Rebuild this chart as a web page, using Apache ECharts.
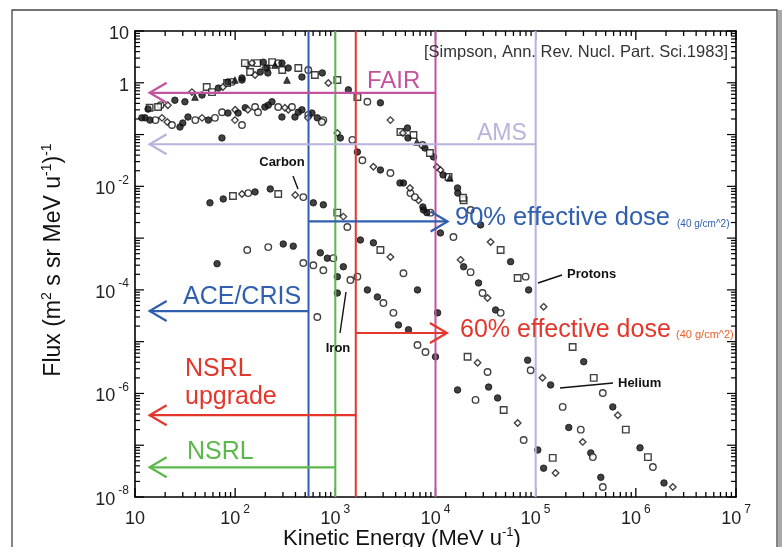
<!DOCTYPE html>
<html><head><meta charset="utf-8">
<script src="https://cdn.jsdelivr.net/npm/echarts@6/dist/echarts.min.js"></script>
<style>html,body{margin:0;padding:0;background:#fff}#c{width:782px;height:547px}</style>
</head><body><div id="c"></div>
<script>
// ---------- data (kinetic energy in MeV/u, flux in (m^2 s sr MeV/u)^-1) ----------
const protonE = [14,18,25,37,52,68,83,93,117,132,166,191,234,269,178,200,295,339,427,537,741,851,1047,1349,1660,2089,2818,3548,4467,5248,6026,7413,9550,1.12e4,1.35e4,1.66e4,1.91e4,2.24e4,2.82e4,3.55e4,4.47e4,5.62e4,6.61e4,7.94e4,8.51e4,1.2e5,2.34e5,3.02e5,3.8e5,4.68e5,5.89e5,6.61e5,7.94e5,1.1e6,1.32e6,1.48e6,1.91e6,2.34e6];
const protonFlux = [0.33,0.37,0.46,0.66,0.83,0.79,0.99,1.04,1.13,2.2,2.4,2.5,2.5,2.4,1.61,1.93,1.77,1.93,1.93,1.77,1.55,0.99,1.13,0.73,0.53,0.43,0.41,0.19,0.112,0.134,0.098,0.063,0.037,0.0207,0.0151,0.0093,0.0054,0.0035,0.0018,8.4e-4,5.9e-4,3.5e-4,1.7e-4,1.8e-4,1.0e-4,4.7e-5,7.9e-6,4.1e-6,2.0e-6,1.02e-6,5.5e-7,3.8e-7,2.0e-7,8.9e-8,5.9e-8,3.8e-8,1.87e-8,1.56e-8];
// other proton data sets (denser low/mid-energy cloud)
const protonE2 = [13.5,17,21.3,31.5,39.7,46.7,58.7,75.5,84.7,99.5,117,141,158,208,250,293,125,147,212,329,464,625,4730,5310,6520,7830,8790,1.03e4,1.19e4,1.39e4,1.67e4,1.88e4];
const protonFlux2 = [0.31,0.34,0.37,0.43,0.53,0.58,0.66,0.83,1.04,1.13,1.24,1.61,1.41,1.93,2.2,2.4,2.4,2.4,1.55,1.13,1.29,1.41,0.107,0.086,0.072,0.055,0.044,0.0237,0.0166,0.0145,0.0074,0.0060];

const heliumE = [12.6,16,21,30,40,54,74,100,126,158,214,269,339,427,537,661,759,1047,1122,1479,1660,1862,2399,2818,3548,4786,5623,6761,7586,8913,1.12e4,1.51e4,1.78e4,1.91e4,2.24e4,2.69e4,2.95e4,3.31e4,3.98e4,4.47e4,8.32e4,8.91e4,1.17e5,1.41e5,1.86e5,2.14e5,2.82e5,2.95e5,3.55e5,3.72e5,4.47e5,4.68e5];
const heliumFlux = [0.21,0.19,0.175,0.167,0.19,0.19,0.27,0.30,0.33,0.34,0.37,0.34,0.30,0.27,0.24,0.21,0.19,0.107,0.086,0.079,0.046,0.032,0.024,0.0207,0.0181,0.0116,0.0074,0.0054,0.0035,0.0031,0.00126,0.00105,3.8e-4,2.8e-4,2.2e-4,1.36e-4,8.7e-5,7.0e-5,4.1e-5,3.6e-5,4.4e-6,2.8e-6,2.0e-6,1.46e-6,5.5e-7,2.2e-7,2.0e-7,1.16e-7,7.1e-8,5.9e-8,2.4e-8,1.56e-8];
const heliumE2 = [11.7,14.1,18.6,23.4,28.1,33.8,46.7,62.8,84.7,107,134,169,198,233,314,369,464,584,99.5,117,293,395,533,735,73.8,4420,5560,6230,7480,8200];
const heliumFlux2 = [0.21,0.19,0.21,0.153,0.14,0.218,0.21,0.21,0.26,0.26,0.30,0.27,0.34,0.43,0.33,0.34,0.30,0.26,0.19,0.153,0.218,0.218,0.21,0.175,0.086,0.0116,0.0093,0.0062,0.0040,0.0031];

const carbonE = [56,76,95,117,135,158,224,269,398,479,603,759,1047,1202,1318,1778,2399,2818,3548,4786,6607,1.05e4,2.09e4,2.63e4,3.31e4,3.39e4,4.17e4,4.79e4,6.61e4,7.59e4,1.05e5,1.2e5,1.48e5,1.58e5];
const carbonFlux = [0.0048,0.0057,0.0065,0.0071,0.0074,0.0078,0.0089,0.0071,0.0068,0.0062,0.0048,0.0044,0.0031,0.0026,0.00164,9.2e-4,8.1e-4,5.9e-4,4.3e-4,2.1e-4,1.0e-4,3.6e-5,5.1e-6,3.9e-6,2.6e-6,1.33e-6,8.2e-7,4.8e-7,2.7e-7,1.26e-7,8.1e-8,3.6e-8,5.7e-8,2.9e-8];

const ironE = [66,132,214,302,380,479,603,708,832,955,759,1047,1202,1413,1660,2089,2630,3020,3800,4266,5370,6607,7943,1.0e4,1.66e4,2.51e4,661,1047];
const ironFlux = [3.2e-4,5.9e-4,6.7e-4,7.7e-4,7.0e-4,3.3e-4,3.0e-4,5.2e-4,4.1e-4,4.1e-4,2.4e-4,1.8e-4,2.8e-4,1.55e-4,1.8e-4,1.0e-4,7.3e-5,5.6e-5,3.6e-5,2.1e-5,1.7e-5,8.6e-6,6.3e-6,5.1e-6,1.17e-6,7.5e-7,3.0e-5,8.7e-5];

// facility energy limits and arrow levels
const facilityNames = ['ACE/CRIS', 'NSRL', 'NSRL upgrade', 'FAIR', 'AMS'];
const facilityEnergy = [540, 1000, 1600, 1.0e4, 1.0e5];
const facilityArrowFlux = [3.9e-5, 3.75e-8, 3.8e-7, 0.64, 0.065];
const arrowTipEnergy = 14;
// effective dose arrows (start energy, end energy, flux level)
const doseNames = ['90% effective dose', '60% effective dose'];
const doseStartE = [540, 1600];
const doseEndE = [1.32e4, 1.3e4];
const doseFlux = [2.1e-3, 1.47e-5];

const xTickLabels = ['10', '10{s|2}', '10{s|3}', '10{s|4}', '10{s|5}', '10{s|6}', '10{s|7}'];

// ---------- styling ----------
const FONT = '"Liberation Sans", Arial, sans-serif';
const facilityColors = ['#2f5fae', '#5cb84a', '#e3372c', '#c4529f', '#b9b2dc'];
const doseColors = ['#2f5fae', '#e3372c'];

function pts(E, F, pattern) {
  return E.map((e, i) => {
    const s = pattern[i % pattern.length];
    const open = s.indexOf('o') === 0;
    const sym = open ? s.slice(1) : s;
    return {
      value: [e, F[i]], symbol: sym,
      itemStyle: open ? { color: '#fff', borderColor: '#111', borderWidth: 1.4 } : { color: '#111', borderColor: '#111', borderWidth: 1 }
    };
  });
}

const tickData = [];
for (let k = 1; k <= 7; k++) {
  for (let m = 1; m <= 9; m++) {
    const v = m * Math.pow(10, k);
    if (v > 1e7 * 1.0001) break;
    tickData.push([v, 1e-8, m === 1 ? 1 : 0]);
  }
}
const yTickData = [];
for (let k = -8; k <= 1; k++) {
  for (let m = 1; m <= 9; m++) {
    const v = m * Math.pow(10, k);
    if (v > 10 * 1.0001) break;
    yTickData.push([10, v, m === 1 ? 1 : 0]);
  }
}

const chart = echarts.init(document.getElementById('c'), null, { renderer: 'canvas' });

function axisBase(extra) {
  return Object.assign({
    type: 'log', logBase: 10, interval: 1,
    axisLine: { show: true, lineStyle: { color: '#000', width: 1.6 } },
    axisTick: { show: false }, splitLine: { show: false }, minorTick: { show: false }
  }, extra);
}
const richLbl = {
  b: { fontSize: 18, fontFamily: FONT, color: '#222', lineHeight: 24, verticalAlign: 'bottom' },
  s: { fontSize: 12, fontFamily: FONT, color: '#222', verticalAlign: 'top', lineHeight: 24, padding: [0, 0, 0, 3] }
};

const facilityData = facilityEnergy.map((e, i) => [e, facilityArrowFlux[i], arrowTipEnergy, i, 1]);
const doseData = doseStartE.map((e, i) => [e, doseFlux[i], doseEndE[i], i, 0]);

function arrowRender(colors) {
  return function (params, api) {
    const e = api.value(0), f = api.value(1), tip = api.value(2), ci = api.value(3), drawV = api.value(4);
    const c = colors[ci];
    const children = [];
    if (drawV) {
      const t = api.coord([e, 10]), b = api.coord([e, 1e-8]);
      children.push({ type: 'line', shape: { x1: t[0], y1: t[1], x2: b[0], y2: b[1] }, style: { stroke: c, lineWidth: 2 } });
    }
    const a = api.coord([e, f]), p = api.coord([tip, f]);
    const dir = p[0] > a[0] ? 1 : -1;
    children.push({ type: 'line', shape: { x1: a[0], y1: a[1], x2: p[0], y2: p[1] }, style: { stroke: c, lineWidth: 2.2 } });
    children.push({ type: 'polyline', shape: { points: [[p[0] - dir * 17, p[1] - 10], [p[0], p[1]], [p[0] - dir * 17, p[1] + 10]] }, style: { stroke: c, lineWidth: 2.2, fill: null } });
    return { type: 'group', children: children };
  };
}

const SZ = 6.5;
const option = {
  animation: false,
  backgroundColor: '#fff',
  grid: { left: 135, right: 46, top: 31, bottom: 50, show: false },
  xAxis: [
    axisBase({ min: 10, max: 1e7, position: 'bottom',
      axisLabel: { margin: 7, formatter: function (v) { const k = Math.round(Math.log10(v)); return k === 1 ? '{b|10}' : xTickLabels[k - 1].replace('10{', '{b|10}{'); }, rich: richLbl } }),
    axisBase({ min: 10, max: 1e7, position: 'top', axisLabel: { show: false } })
  ],
  yAxis: [
    axisBase({ min: 1e-8, max: 10, position: 'left',
      axisLabel: { margin: 6, formatter: function (v) { const k = Math.round(Math.log10(v)); if (k === 1) return '{b|10}'; if (k === 0) return '{b|1}'; if (k % 2 !== 0) return ''; return '{b|10}{s|' + String(k) + '}'; }, rich: richLbl } }),
    axisBase({ min: 1e-8, max: 10, position: 'right', axisLabel: { show: false } })
  ],
  series: [
    { type: 'scatter', name: 'Protons', symbolSize: SZ, z: 3, data: pts(protonE, protonFlux, ['orect', 'ocircle', 'circle', 'odiamond', 'orect', 'circle']) },
    { type: 'scatter', name: 'Protons (other)', symbolSize: SZ, z: 3, data: pts(protonE2, protonFlux2, ['circle', 'orect', 'odiamond', 'circle', 'triangle']) },
    { type: 'scatter', name: 'Helium', symbolSize: SZ, z: 3, data: pts(heliumE, heliumFlux, ['circle', 'ocircle', 'odiamond', 'circle', 'ocircle']) },
    { type: 'scatter', name: 'Helium (other)', symbolSize: SZ, z: 3, data: pts(heliumE2, heliumFlux2, ['circle', 'circle', 'odiamond', 'ocircle']) },
    { type: 'scatter', name: 'Carbon', symbolSize: SZ, z: 3, data: pts(carbonE, carbonFlux, ['circle', 'circle', 'orect', 'odiamond', 'ocircle']) },
    { type: 'scatter', name: 'Iron', symbolSize: SZ, z: 3, data: pts(ironE, ironFlux, ['circle', 'ocircle', 'ocircle', 'circle']) },
    { type: 'custom', name: 'xticks', silent: true, clip: false, z: 5, data: tickData,
      renderItem: function (params, api) {
        const v = api.value(0), len = api.value(2) ? 9 : 5;
        const b = api.coord([v, 1e-8]), t = api.coord([v, 10]);
        return { type: 'group', children: [
          { type: 'line', shape: { x1: b[0], y1: b[1], x2: b[0], y2: b[1] - len }, style: { stroke: '#000', lineWidth: 1.3 } },
          { type: 'line', shape: { x1: t[0], y1: t[1], x2: t[0], y2: t[1] + len }, style: { stroke: '#000', lineWidth: 1.3 } }
        ] };
      } },
    { type: 'custom', name: 'yticks', silent: true, clip: false, z: 5, data: yTickData,
      renderItem: function (params, api) {
        const v = api.value(1), len = api.value(2) ? 9 : 5;
        const l = api.coord([10, v]), r = api.coord([1e7, v]);
        return { type: 'group', children: [
          { type: 'line', shape: { x1: l[0], y1: l[1], x2: l[0] + len, y2: l[1] }, style: { stroke: '#000', lineWidth: 1.2 } },
          { type: 'line', shape: { x1: r[0], y1: r[1], x2: r[0] - len, y2: r[1] }, style: { stroke: '#000', lineWidth: 1.2 } }
        ] };
      } },
    { type: 'custom', name: 'facilities', silent: true, clip: false, z: 6, data: facilityData, renderItem: arrowRender(facilityColors) },
    { type: 'custom', name: 'dose', silent: true, clip: false, z: 6, data: doseData, renderItem: arrowRender(doseColors) }
  ],
  graphic: [
    { type: 'rect', shape: { x: 12, y: 10, width: 765, height: 560 }, style: { fill: null, stroke: '#444', lineWidth: 1.3 }, z: 0 },
    { type: 'rect', shape: { x: 778, y: 10, width: 4, height: 560 }, style: { fill: '#aaa' }, z: 0 },
    { type: 'text', x: 424, y: 52, style: { text: '[Simpson, Ann. Rev. Nucl. Part. Sci.1983]', font: '16.5px ' + FONT, fill: '#333', align: 'left', verticalAlign: 'middle' }, z: 10 },
    // facility labels
    { type: 'text', x: 367, y: 81, style: { text: 'FAIR', font: '24px ' + FONT, fill: facilityColors[3], align: 'left', verticalAlign: 'middle' }, z: 10 },
    { type: 'text', x: 477, y: 134, style: { text: 'AMS', font: '23px ' + FONT, fill: facilityColors[4], align: 'left', verticalAlign: 'middle' }, z: 10 },
    { type: 'text', x: 183, y: 297, style: { text: 'ACE/CRIS', font: '25px ' + FONT, fill: facilityColors[0], align: 'left', verticalAlign: 'middle' }, z: 10 },
    { type: 'text', x: 185, y: 369, style: { text: 'NSRL', font: '25px ' + FONT, fill: facilityColors[2], align: 'left', verticalAlign: 'middle' }, z: 10 },
    { type: 'text', x: 185, y: 397, style: { text: 'upgrade', font: '25px ' + FONT, fill: facilityColors[2], align: 'left', verticalAlign: 'middle' }, z: 10 },
    { type: 'text', x: 187, y: 452, style: { text: 'NSRL', font: '25px ' + FONT, fill: facilityColors[1], align: 'left', verticalAlign: 'middle' }, z: 10 },
    { type: 'text', x: 455, y: 218, style: { text: doseNames[0], font: '25.5px ' + FONT, fill: doseColors[0], align: 'left', verticalAlign: 'middle' }, z: 10 },
    { type: 'text', x: 677, y: 224, style: { text: '(40 g/cm^2)', font: '10px ' + FONT, fill: doseColors[0], align: 'left', verticalAlign: 'middle' }, z: 10 },
    { type: 'text', x: 460, y: 330, style: { text: doseNames[1], font: '25px ' + FONT, fill: doseColors[1], align: 'left', verticalAlign: 'middle' }, z: 10 },
    { type: 'text', x: 676, y: 335, style: { text: '(40 g/cm^2)', font: '11px ' + FONT, fill: '#e8602c', align: 'left', verticalAlign: 'middle' }, z: 10 },
    // species labels
    { type: 'text', x: 282, y: 162, style: { text: 'Carbon', font: 'bold 13px ' + FONT, fill: '#111', align: 'center', verticalAlign: 'middle' }, z: 10 },
    { type: 'line', shape: { x1: 293, y1: 176, x2: 298, y2: 189 }, style: { stroke: '#111', lineWidth: 1.4 }, z: 10 },
    { type: 'text', x: 338, y: 348, style: { text: 'Iron', font: 'bold 13px ' + FONT, fill: '#111', align: 'center', verticalAlign: 'middle' }, z: 10 },
    { type: 'line', shape: { x1: 340, y1: 333, x2: 346, y2: 292 }, style: { stroke: '#111', lineWidth: 1.4 }, z: 10 },
    { type: 'text', x: 567, y: 274, style: { text: 'Protons', font: 'bold 13px ' + FONT, fill: '#111', align: 'left', verticalAlign: 'middle' }, z: 10 },
    { type: 'line', shape: { x1: 538, y1: 283, x2: 562, y2: 275 }, style: { stroke: '#111', lineWidth: 1.4 }, z: 10 },
    { type: 'text', x: 618, y: 383, style: { text: 'Helium', font: 'bold 13px ' + FONT, fill: '#111', align: 'left', verticalAlign: 'middle' }, z: 10 },
    { type: 'line', shape: { x1: 560, y1: 388, x2: 613, y2: 383 }, style: { stroke: '#111', lineWidth: 1.4 }, z: 10 },
    // axis titles
    { type: 'text', x: 402, y: 539, style: { text: 'Kinetic Energy (MeV u{s|-1})', font: '22px ' + FONT, fill: '#111', align: 'center', verticalAlign: 'middle',
        rich: { s: { fontSize: 13, fontFamily: FONT, fill: '#111', verticalAlign: 'top', lineHeight: 26 } } }, z: 10 },
    { type: 'text', x: 54, y: 260, rotation: Math.PI / 2, style: { text: 'Flux (m{s|2} s sr MeV u{s|-1}){s|-1}', font: '23px ' + FONT, fill: '#111', align: 'center', verticalAlign: 'middle',
        rich: { s: { fontSize: 14, fontFamily: FONT, fill: '#111', verticalAlign: 'top', lineHeight: 28 } } }, z: 10 }
  ]
};
chart.setOption(option);
</script></body></html>
